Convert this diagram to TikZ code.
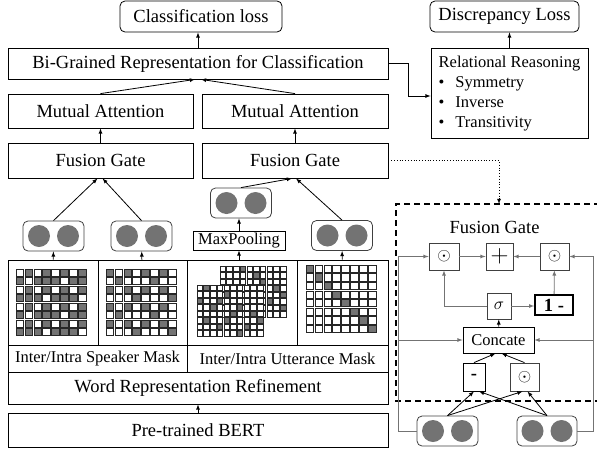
\documentclass[tikz,border=0pt]{standalone}
\usepackage{fontspec}
\setmainfont{Liberation Serif}

\begin{document}
\begin{tikzpicture}[x=1pt,y=-1pt,>=latex,line width=0.8pt,
  box/.style={draw,inner sep=0pt,font=\fontsize{18.5}{20}\selectfont},
  rbox/.style={box,rounded corners=5pt},
  sbox/.style={box,font=\fontsize{16.5}{20}\selectfont},
  pair/.style={draw=black!75,rounded corners=5pt,minimum width=61,minimum height=30},
  op/.style={draw=black!75,inner sep=0pt,minimum width=28,minimum height=27,font=\fontsize{18.5}{20}\selectfont},
  cellg/.style={draw=black!85,fill=black!55,line width=0.6pt},
  cellw/.style={draw=black!85,fill=white,line width=0.6pt},
  gline/.style={draw=black!55,->}]
  \useasboundingbox (0,0) rectangle (597,453);

  \node[rbox,minimum width=162,minimum height=31] (cls) at (201,16.5) {Classification loss};
  \node[rbox,minimum width=149,minimum height=31] (dis) at (504.5,16.5) {Discrepancy Loss};
  \node[box,minimum width=380,minimum height=31] (bgr) at (198,63.5) {Bi-Grained Representation for Classification};
  \node[sbox,minimum width=157,minimum height=90] (rr) at (509.5,93) {\begin{tabular}{@{}l@{\hspace{11pt}}l@{}}
    \multicolumn{2}{@{}l@{}}{Relational Reasoning}\\
    • & Symmetry\\
    • & Inverse\\
    • & Transitivity
  \end{tabular}};
  \node[box,minimum width=185,minimum height=34] (ma1) at (100.5,111) {Mutual Attention};
  \node[box,minimum width=186,minimum height=34] (ma2) at (295,111) {Mutual Attention};
  \node[box,minimum width=185,minimum height=35] (fg1) at (100.5,160.5) {Fusion Gate};
  \node[box,minimum width=186,minimum height=35] (fg2) at (295,160.5) {Fusion Gate};
  \node[pair] (p1) at (53.5,236) {};
  \node[pair] (p2) at (141.5,236) {};
  \node[pair] (p3) at (241,203) {};
  \node[pair] (p4) at (342,235.5) {};
  \node[sbox,minimum width=92,minimum height=19] (mp) at (239,240.5) {MaxPooling};
  \node[box,minimum width=90,minimum height=85] (m1) at (53,302.5) {};
  \node[box,minimum width=89,minimum height=85] (m2) at (142.5,302.5) {};
  \node[box,minimum width=110,minimum height=85] (m3) at (242,302.5) {};
  \node[box,minimum width=91,minimum height=85] (m4) at (342.5,302.5) {};
  \node[sbox,minimum width=179,minimum height=27] (spk) at (97.5,358.5) {Inter/Intra Speaker Mask};
  \node[sbox,minimum width=201,minimum height=27] (utt) at (287.5,358.5) {Inter/Intra Utterance Mask};
  \node[box,minimum width=380,minimum height=32] (wrr) at (198,388) {Word Representation Refinement};
  \node[box,minimum width=380,minimum height=34] (bert) at (198,430) {Pre-trained BERT};

  \draw[->] (bert) -- (wrr);
  \draw[->] (m1) -- (p1);
  \draw[->] (m2) -- (p2);
  \draw[->] (mp.south |- m3.north) -- (mp.south);
  \draw[->] (mp.north) -- (mp.north |- p3.south);
  \draw[->] (m4) -- (p4);
  \draw[->] (p1.north) -- ([xshift=-3]fg1.south);
  \draw[->] (p2.north) -- ([xshift=2]fg1.south);
  \draw[->] (p3.north) -- ([xshift=-3]fg2.south);
  \draw[->] (p4.north) -- ([xshift=1]fg2.south);
  \draw[->] (fg1) -- (ma1);
  \draw[->] (fg2) -- (ma2);
  \draw[->] (ma1.north) -- ([xshift=-3]bgr.south);
  \draw[->] (ma2.north) -- ([xshift=3]bgr.south);
  \draw[->] (bgr.north) -- (bgr.north |- cls.south);
  \draw[->] (rr.north) -- (rr.north |- dis.south);
  \draw[->] (bgr.east) -- ++(20,0) |- ([yshift=-3]rr.west);

  % speaker masks
  \foreach \gx/\base/\mark in {16/cellg/cellw,106/cellw/cellg}{
    \foreach \r in {0,...,7} \foreach \c in {0,...,7}
      \path[\base] (\gx+\c*8.9,269+\r*8.5) rectangle ++(7.6,7.2);
    \foreach \r in {0,2,4,6} \foreach \c in {0,2,4,6}
      \path[\mark] (\gx+\c*8.9,269+\r*8.5) rectangle ++(7.6,7.2);
    \foreach \c/\r in {1/1,5/1,3/3,7/3,1/5,5/5,3/7,7/7}
      \path[\mark] (\gx+\c*8.9,269+\r*8.5) rectangle ++(7.6,7.2);
  }
  % utterance masks
  \foreach \gx/\gy/\marks in {220/266/{3/0,5/1,6/2,8/3,9/4,7/5,9/6},
      197/285/{1/0,4/1,0/2,3/2,2/3,6/3,5/4,8/4,1/5,4/5,9/5,7/6,3/6,6/7}}{
    \foreach \r in {0,...,7} \foreach \c in {0,...,9}
      \path[cellw] (\gx+\c*6.7,\gy+\r*6.5) rectangle ++(5.5,5.3);
    \foreach \c/\r in \marks
      \path[cellg] (\gx+\c*6.7,\gy+\r*6.5) rectangle ++(5.5,5.3);
  }
  \foreach \r in {0,...,7} \foreach \c in {0,...,7}
    \path[cellw] (306+\c*8.9,265+\r*8.6) rectangle ++(7.6,7.3);
  \foreach \r in {0,...,7}
    \path[cellg] (306+\r*8.9,265+\r*8.6) rectangle ++(7.6,7.3);

  % fusion gate detail
  \draw[dash pattern=on 6pt off 4pt,line width=1.6pt] (600,204) -- (396,204) -- (396,401) -- (600,401);
  \coordinate (gtop) at (499,204);
  \draw[->,dotted] (fg2.east) -| (gtop);
  \node[font=\fontsize{18.5}{20}\selectfont] (fgt) at (494.5,227) {Fusion Gate};
  \node[op,minimum width=30] (o1) at (444,256.5) {$\odot$};
  \node[op,minimum width=27] (pl) at (499.5,256.5) {\fontsize{24}{24}\selectfont$+$};
  \node[op,minimum width=29] (o2) at (554.5,256.5) {$\odot$};
  \node[op,minimum width=24,minimum height=26] (sg) at (499,306) {$\sigma$};
  \node[op,draw=black,line width=1.6pt,minimum width=38,minimum height=20,font=\bfseries\fontsize{18.5}{20}\selectfont] (om) at (554,305) {1 -};
  \node[sbox,minimum width=71,minimum height=26] (cc) at (498.5,340) {Concate};
  \node[op,draw=black,minimum width=22,minimum height=28,font=\bfseries\fontsize{18.5}{20}\selectfont] (mi) at (474,377) {-};
  \node[op,minimum width=29,minimum height=28] (o3) at (524.5,377) {$\odot$};
  \node[pair] (q1) at (447.5,431) {};
  \node[pair,minimum width=60] (q2) at (547,431) {};

  \draw[gline] (o1) -- (pl);
  \draw[gline] (o2) -- (pl);
  \draw[gline] (sg.west) -| (o1.south);
  \draw[gline] (sg.east) -- (sg.east -| om.west);
  \draw[gline] (om) -- (o2);
  \draw[->] (cc) -- (sg);
  \draw[gline] (q1.west) -- ++(-18,0) coordinate (ql) |- (o1.west);
  \draw[gline] (ql |- cc.west) -- (cc.west);
  \draw[gline] (q2.east) -- ++(16,0) coordinate (qr) |- (o2.east);
  \draw[gline] (qr |- cc.east) -- (cc.east);
  \draw[->] (q1.north) -- (mi.south);
  \draw[->] (q1.north) -- ([xshift=-2]o3.south);
  \draw[->] (q2.north) -- ([xshift=5]mi.south);
  \draw[->] (q2.north) -- ([xshift=3]o3.south);
  \draw[->] (mi.north) -- ([xshift=-3]cc.south);
  \draw[->] (o3.north) -- ([xshift=3]cc.south);

  \foreach \n in {p1,p2,p3,p4,q1,q2}
    \foreach \dx in {-14.5,14.5}
      \fill[black!55] ([xshift=\dx]\n.center) circle (11);
\end{tikzpicture}
\end{document}
